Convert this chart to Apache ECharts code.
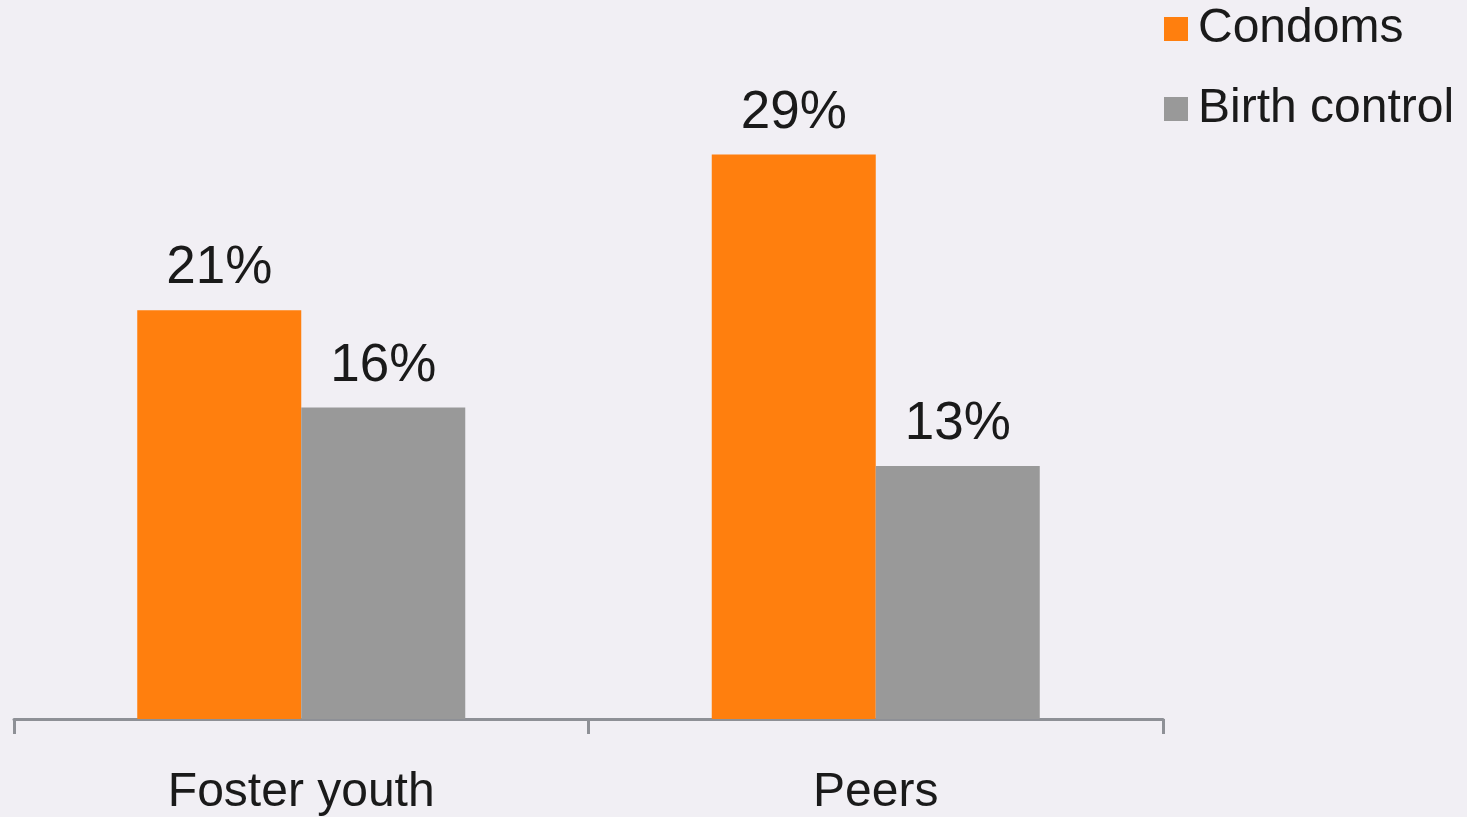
<!DOCTYPE html>
<html>
<head>
<meta charset="utf-8">
<script src="https://cdn.jsdelivr.net/npm/echarts@6/dist/echarts.min.js"></script>
<style>
html,body{margin:0;padding:0;background:#F1EFF4;}
#c{width:1467px;height:817px;}
</style>
</head>
<body>
<div id="c"></div>
<script>
const categories = ['Foster youth', 'Peers'];
const seriesNames = ['Condoms', 'Birth control'];
const condoms = [21, 29];
const birthControl = [16, 13];

const chart = echarts.init(document.getElementById('c'), null, {renderer: 'canvas'});
const FONT = 'Liberation Sans, Arial, sans-serif';
const labelOpt = {
  show: true, position: 'top', distance: 15,
  formatter: p => p.value + '%',
  fontFamily: FONT, fontSize: 53, color: '#1a1a1a'
};
chart.setOption({
  backgroundColor: '#F1EFF4',
  animation: false,
  grid: {left: 14, right: 304, top: 135, bottom: 94, containLabel: false},
  legend: {
    orient: 'vertical', left: 1164, top: 1, itemGap: 24, padding: 0,
    itemWidth: 24, itemHeight: 24, icon: 'rect',
    textStyle: {fontFamily: FONT, fontSize: 48, color: '#1a1a1a', lineHeight: 48, padding: [8, 0, 0, 5]},
    data: seriesNames
  },
  xAxis: {
    type: 'category', data: categories,
    axisLine: {lineStyle: {color: '#8E9096', width: 3}},
    axisTick: {show: true, length: 15, lineStyle: {color: '#8E9096', width: 3}},
    axisLabel: {fontFamily: FONT, fontSize: 48, color: '#1a1a1a', margin: 50}
  },
  yAxis: {type: 'value', min: 0, max: 30, show: false, splitLine: {show: false}},
  series: [
    {name: seriesNames[0], type: 'bar', data: condoms, barWidth: 164, barGap: '0%',
     itemStyle: {color: '#FF7F0E'}, label: labelOpt},
    {name: seriesNames[1], type: 'bar', data: birthControl, barWidth: 164, barGap: '0%',
     itemStyle: {color: '#999999'}, label: labelOpt}
  ]
});
</script>
</body>
</html>
